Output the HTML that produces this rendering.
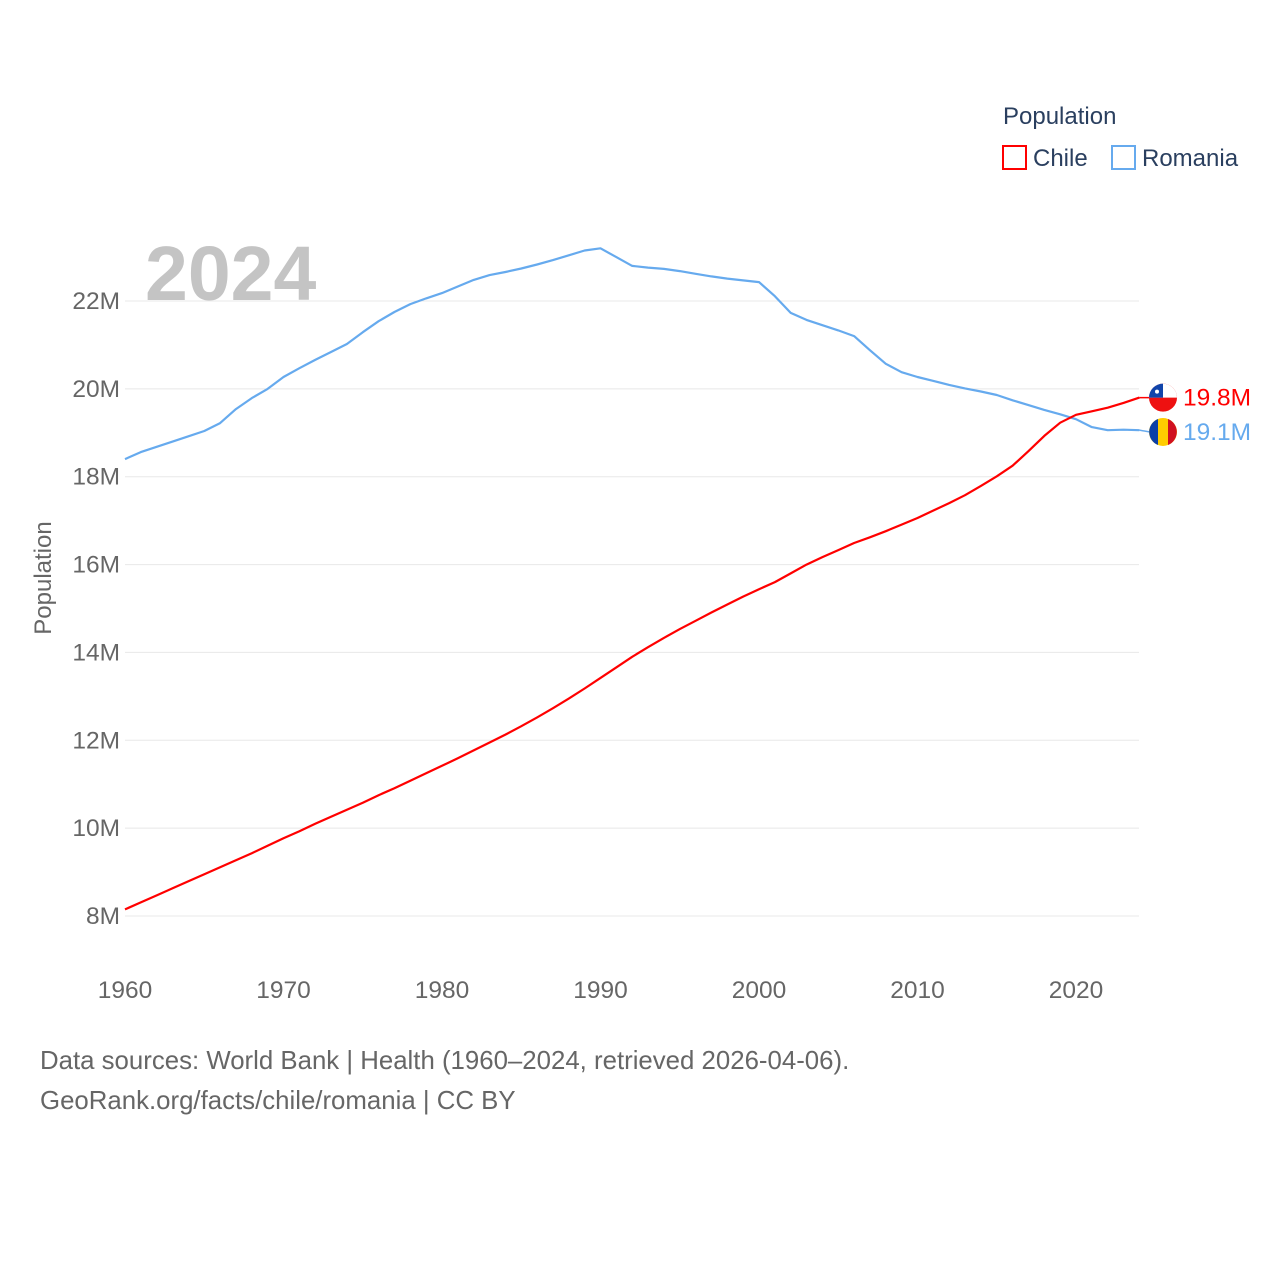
<!DOCTYPE html>
<html><head><meta charset="utf-8">
<style>
body{margin:0;background:#fff;font-family:"Liberation Sans",sans-serif;}
svg{display:block}
</style></head>
<body>
<svg id="chart" width="1280" height="1280" xmlns="http://www.w3.org/2000/svg">
<rect width="1280" height="1280" fill="#fff"/>
<g id="grid"></g>
<g id="yticks"></g>
<g id="xticks"></g>
<g id="series"></g>
<text x="145" y="300" font-size="77" font-weight="bold" fill="#c4c4c4">2024</text>
<text transform="translate(51,578) rotate(-90)" text-anchor="middle" font-size="24" fill="#666">Population</text>
<g>
<text x="1003" y="124" font-size="24" fill="#2a3f5f">Population</text>
<g>
<rect x="1003" y="146" width="23" height="23" fill="none" stroke="#ff0000" stroke-width="2"/>
<text x="1033" y="166" font-size="24" fill="#2a3f5f">Chile</text></g>
<g>
<rect x="1112" y="146" width="23" height="23" fill="none" stroke="#66aaee" stroke-width="2"/>
<text x="1142" y="166" font-size="24" fill="#2a3f5f">Romania</text></g>
</g>
<g>
<text x="40" y="1069" font-size="25.8" fill="#666">Data sources: World Bank | Health (1960–2024, retrieved 2026-04-06).</text>
<text x="40" y="1109" font-size="25.8" fill="#666">GeoRank.org/facts/chile/romania | CC BY</text>
</g>
</svg>
<script>
const years = [];
for (let y = 1960; y <= 2024; y++) years.push(y);
const chile = [8.15,8.31,8.47,8.63,8.79,8.95,9.11,9.27,9.43,9.60,
9.77,9.93,10.10,10.26,10.42,10.58,10.75,10.91,11.08,11.25,
11.42,11.59,11.77,11.95,12.13,12.32,12.52,12.73,12.95,13.18,
13.42,13.66,13.90,14.12,14.33,14.53,14.72,14.91,15.09,15.27,
15.44,15.60,15.80,16.00,16.17,16.33,16.49,16.62,16.76,16.91,
17.06,17.23,17.40,17.58,17.79,18.01,18.25,18.58,18.93,19.23,
19.41,19.49,19.57,19.68,19.80];
const romania = [18.40,18.56,18.68,18.80,18.92,19.04,19.22,19.54,19.79,20.00,
20.27,20.47,20.66,20.84,21.02,21.29,21.54,21.75,21.93,22.06,
22.18,22.33,22.48,22.59,22.66,22.74,22.83,22.93,23.04,23.15,
23.20,23.00,22.80,22.76,22.73,22.68,22.62,22.56,22.51,22.47,
22.43,22.11,21.73,21.57,21.45,21.33,21.20,20.88,20.57,20.38,
20.27,20.18,20.09,20.01,19.94,19.86,19.74,19.63,19.52,19.42,
19.31,19.13,19.06,19.07,19.06];
const yTicks = [8,10,12,14,16,18,20,22];
const xTicks = [1960,1970,1980,1990,2000,2010,2020];
const NS = "http://www.w3.org/2000/svg";
const X = yr => 125 + (yr - 1960) * (951/60);
const Y = v => 916 - (v - 8) * (615/14);
function mk(tag, attrs, parent){const e=document.createElementNS(NS,tag);for(const k in attrs)e.setAttribute(k,attrs[k]);parent.appendChild(e);return e;}
const grid=document.getElementById('grid'), yt=document.getElementById('yticks'), xt=document.getElementById('xticks'), ser=document.getElementById('series');
yTicks.forEach(v=>{
  const l=mk('line',{x1:125,x2:1139,y1:Y(v),y2:Y(v),stroke:'#e8e8e8','stroke-width':1},grid);
  
  
  const t=mk('text',{x:120,y:Y(v)+8,'text-anchor':'end','font-size':24.5,fill:'#666'},yt);
  t.textContent=v+'M';
  
  
});
xTicks.forEach(v=>{
  const t=mk('text',{x:X(v),y:998,'text-anchor':'middle','font-size':24.5,fill:'#666'},xt);
  t.textContent=v;
  
  
});
function line(vals,color,name){
  const d=vals.map((v,i)=>(i?'L':'M')+X(years[i]).toFixed(1)+','+Y(v).toFixed(1)).join('');
  const p=mk('path',{d:d,fill:'none',stroke:color,'stroke-width':2.2,'stroke-linejoin':'round'},ser);
  
  
}
line(romania,'#66aaee','romania-line');
line(chile,'#ff0000','chile-line');
function endLabel(vals,color,name,ly,flag){
  const last=vals[vals.length-1], lx=X(years[years.length-1]);
  mk('line',{x1:lx,y1:Y(last),x2:1150,y2:ly,stroke:color,'stroke-width':1.5},ser);
  const g=mk('g',{},ser);
  
  
  flag(g,1163,ly);
  const t=mk('text',{x:1183,y:ly+8,'font-size':24.5,fill:color},g);
  t.textContent=last.toFixed(1)+'M';
}
endLabel(chile,'#ff0000','chile',Y(chile[chile.length-1]),(g,cx,cy)=>{
  mk('circle',{cx:cx,cy:cy,r:14,fill:'#ee1111'},g);
  mk('path',{d:`M${cx-14},${cy} A14,14 0 0 1 ${cx+14},${cy} Z`,fill:'#fff'},g);
  mk('path',{d:`M${cx-14},${cy} A14,14 0 0 1 ${cx},${cy-14} L${cx},${cy} Z`,fill:'#1144aa'},g);
  mk('circle',{cx:cx-6,cy:cy-6,r:2,fill:'#fff'},g);
});
endLabel(romania,'#66aaee','romania',432,(g,cx,cy)=>{
  mk('circle',{cx:cx,cy:cy,r:14,fill:'#ffcc00'},g);
  mk('path',{d:`M${cx-5},${cy-13} A14,14 0 0 0 ${cx-5},${cy+13} Z`,fill:'#0b3fa8'},g);
  mk('path',{d:`M${cx+5},${cy-13} A14,14 0 0 1 ${cx+5},${cy+13} Z`,fill:'#d01020'},g);
});
</script>
</body></html>
